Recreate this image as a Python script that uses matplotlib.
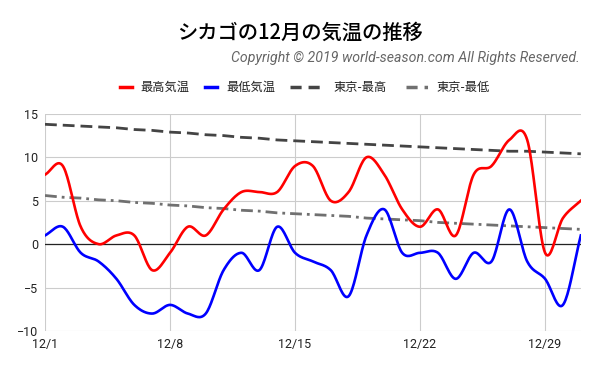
import numpy as np
import matplotlib
matplotlib.use("Agg")
import matplotlib.pyplot as plt
from matplotlib.lines import Line2D

plt.rcParams['font.family'] = ['Noto Sans CJK JP', 'DejaVu Sans']
plt.rcParams['lines.scale_dashes'] = False

# December daily values (degC)
days = list(range(1, 32))
chicago_max = [8, 9, 2, 0, 1, 1, -3, -1, 2, 1, 4, 6, 6, 6, 9, 9, 5, 6, 10, 8,
               4, 2, 4, 1, 8, 9, 12, 12, -1, 3, 5]
chicago_min = [1, 2, -1, -2, -4, -7, -8, -7, -8, -8, -3, -1, -3, 2, -1, -2, -3,
               -6, 1, 4, -1, -1, -1, -4, -1, -2, 4, -2, -4, -7, 1]
tokyo_max = [13.8, 13.7, 13.6, 13.5, 13.4, 13.2, 13.1, 12.9, 12.8, 12.6, 12.5,
             12.3, 12.2, 12.0, 11.9, 11.8, 11.7, 11.6, 11.5, 11.4, 11.3, 11.2,
             11.1, 11.0, 10.9, 10.8, 10.7, 10.7, 10.6, 10.5, 10.4]
tokyo_min = [5.6, 5.4, 5.3, 5.1, 5.0, 4.8, 4.7, 4.5, 4.4, 4.2, 4.1, 3.9, 3.8,
             3.6, 3.5, 3.4, 3.3, 3.2, 3.0, 2.9, 2.8, 2.7, 2.5, 2.4, 2.3, 2.2,
             2.1, 2.0, 1.9, 1.8, 1.7]
tick_days = [1, 8, 15, 22, 29]
tick_labels = ['12/1', '12/8', '12/15', '12/22', '12/29']
series_names = ['最高気温', '最低気温', '東京-最高', '東京-最低']


def smooth(x, y, n=20):
    # catmull-rom style curve through the daily points
    x = np.asarray(x, float)
    y = np.asarray(y, float)
    m = np.empty_like(y)
    m[1:-1] = (y[2:] - y[:-2]) / 2
    m[0] = y[1] - y[0]
    m[-1] = y[-1] - y[-2]
    xs, ys = [], []
    t = np.linspace(0, 1, n, endpoint=False)
    h00 = 2*t**3 - 3*t**2 + 1
    h10 = t**3 - 2*t**2 + t
    h01 = -2*t**3 + 3*t**2
    h11 = t**3 - t**2
    for i in range(len(x) - 1):
        xs.append(x[i] + t * (x[i+1] - x[i]))
        ys.append(h00*y[i] + h10*m[i] + h01*y[i+1] + h11*m[i+1])
    xs.append([x[-1]])
    ys.append([y[-1]])
    return np.concatenate(xs), np.concatenate(ys)


fig = plt.figure(figsize=(6, 3.71), dpi=100)
ax = fig.add_axes([0.075, 0.108, 0.893, 0.585])

ax.plot(days, tokyo_max, color='#444444', lw=2, dashes=(8.5, 4.3), zorder=3)
ax.plot(days, tokyo_min, color='#707070', lw=2, dashes=(8.5, 3.6, 2, 3.6), zorder=3)
sx, sy = smooth(days, chicago_max)
ax.plot(sx, sy, color='#ff0000', lw=1.9, zorder=4)
sx, sy = smooth(days, chicago_min)
ax.plot(sx, sy, color='#0000ff', lw=1.9, zorder=4)

ax.axhline(0, color='#222222', lw=0.9, zorder=2)
ax.set_xlim(1, 31)
ax.set_ylim(-10, 15)
ax.set_xticks(tick_days)
ax.set_xticklabels(tick_labels)
ax.set_yticks([-10, -5, 0, 5, 10, 15])
ax.grid(True, color='#cccccc', lw=0.8, zorder=1)
ax.set_axisbelow(True)
for s in ax.spines.values():
    s.set_visible(False)
ax.tick_params(length=0, labelsize=9, colors='#222222', pad=5)
for lab in ax.get_xticklabels() + ax.get_yticklabels():
    lab.set_family('Roboto')

fig.text(0.5, 0.912, 'シカゴの12月の気温の推移', ha='center', va='center',
         fontsize=14.6, color='#000000', weight='medium')
fig.text(0.967, 0.843, 'Copyright © 2019 world-season.com All Rights Reserved.',
         ha='right', va='center', fontsize=10.2, color='#666666',
         family='Roboto', style='italic')

# legend row
leg_y = 1 - 87 / 371
handles = [
    (120, 132, dict(color='#ff0000', lw=2.5)),
    (205, 217, dict(color='#0000ff', lw=2.5)),
    (290, 325, dict(color='#444444', lw=2.5, dashes=(8, 5))),
    (406, 428, dict(color='#707070', lw=2.5, dashes=(8, 5, 2.5, 5))),
]
text_x = [140, 226, 333, 436]
for (x0, x1, kw), tx, name in zip(handles, text_x, series_names):
    fig.add_artist(Line2D([x0 / 600, x1 / 600], [leg_y, leg_y],
                          transform=fig.transFigure, **kw))
    fig.text(tx / 600, leg_y, name, ha='left', va='center', fontsize=8.8,
             color='#222222')

fig.savefig('out.png', dpi=100)
